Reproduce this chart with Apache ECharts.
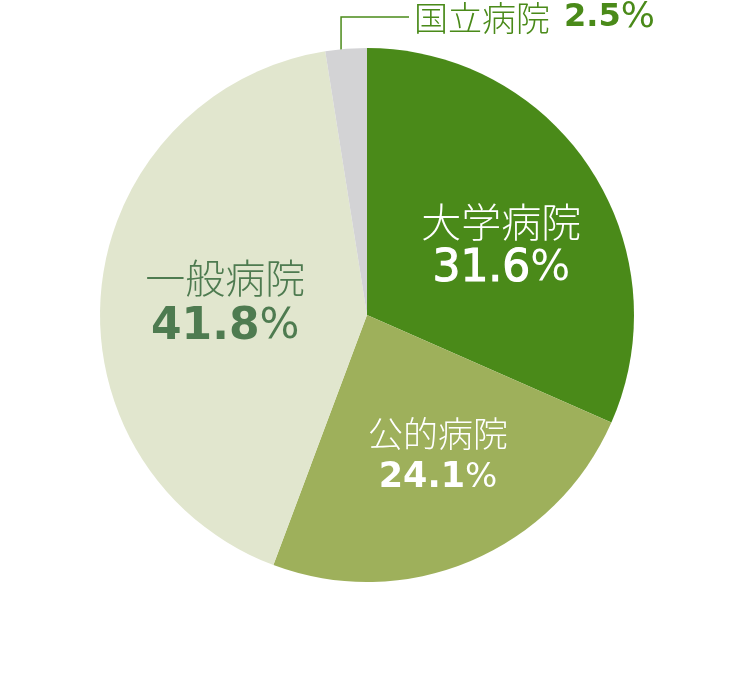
<!DOCTYPE html>
<html>
  <head>
      <meta charset="utf-8">
      <script src="https://cdn.jsdelivr.net/npm/echarts@6/dist/echarts.min.js"></script>
  </head>

<body style="margin:0;background:#fff;">
    <div id="main" style="width: 750px;height:700px;"></div>
    <script type="text/javascript">
        // 病院種別の割合（%）
        var names = ['大学病院', '公的病院', '一般病院', '国立病院'];
        var values = [31.6, 24.1, 41.8, 2.5];

        var colors = ['#4a8a19', '#9eb05b', '#e1e6ce', '#d3d3d5'];
        var textColors = ['#ffffff', '#ffffff', '#4e7b50', '#4a8a19'];
        var nameSizes = [40, 35, 40, 34];
        var numSizes = [44, 35, 44, 32];
        var pctSizes = [42, 34, 42, 36];
        var lineHeights = [48, 45, 50, 36];
        var numWeights = ['normal', 'bold', 'bold', 'bold'];
        var numStroke = [1.2, 0, 0, 0];
        var offsets = [[20, 5], [18, 15], [-6, 1], [0, 0]];

        var cx = 367, cy = 315;
        var cjk = '"Noto Sans CJK JP", sans-serif';
        var latin = '"DejaVu Sans", sans-serif';

        var pieData = names.map(function (n, i) {
            var outside = i === 3;
            return {
                name: n,
                value: values[i],
                itemStyle: { color: colors[i] },
                label: {
                    position: outside ? 'outside' : 'inside',
                    offset: offsets[i],
                    formatter: outside
                        ? '{n|{b}}{s| }{v|{c}}{p|%}'
                        : '{n|{b}}\n{v|{c}}{p|%}',
                    rich: {
                        n: { fontFamily: cjk, fontSize: nameSizes[i], fontWeight: 300,
                             color: textColors[i], lineHeight: lineHeights[i], align: 'center' },
                        s: { fontSize: 14, width: 14 },
                        v: { fontFamily: latin, fontSize: numSizes[i], fontWeight: numWeights[i],
                             color: textColors[i], lineHeight: lineHeights[i],
                             textBorderColor: textColors[i], textBorderWidth: numStroke[i] },
                        p: { fontFamily: latin, fontSize: pctSizes[i], fontWeight: 'normal',
                             color: textColors[i], lineHeight: lineHeights[i] }
                    }
                },
                labelLine: {
                    show: outside,
                    length: 20,
                    length2: 20,
                    lineStyle: { color: '#4a8a19', width: 1.5 }
                }
            };
        });

        var myChart = echarts.init(document.getElementById('main'));
        myChart.setOption({
            animation: false,
            series: [{
                type: 'pie',
                center: [cx, cy],
                radius: 267,
                startAngle: 90,
                clockwise: true,
                avoidLabelOverlap: false,
                emphasis: { disabled: true },
                data: pieData,
                labelLayout: function (p) {
                    if (p.dataIndex !== 3) return {};
                    var p0 = p.labelLinePoints[0];
                    var lx = p0[0] - 5;
                    return {
                        x: 414,
                        y: 18,
                        align: 'left',
                        verticalAlign: 'middle',
                        labelLinePoints: [[lx, p0[1] + 13], [lx, 17], [409, 17]]
                    };
                }
            }]
        });
    </script>
</body>

</html>
